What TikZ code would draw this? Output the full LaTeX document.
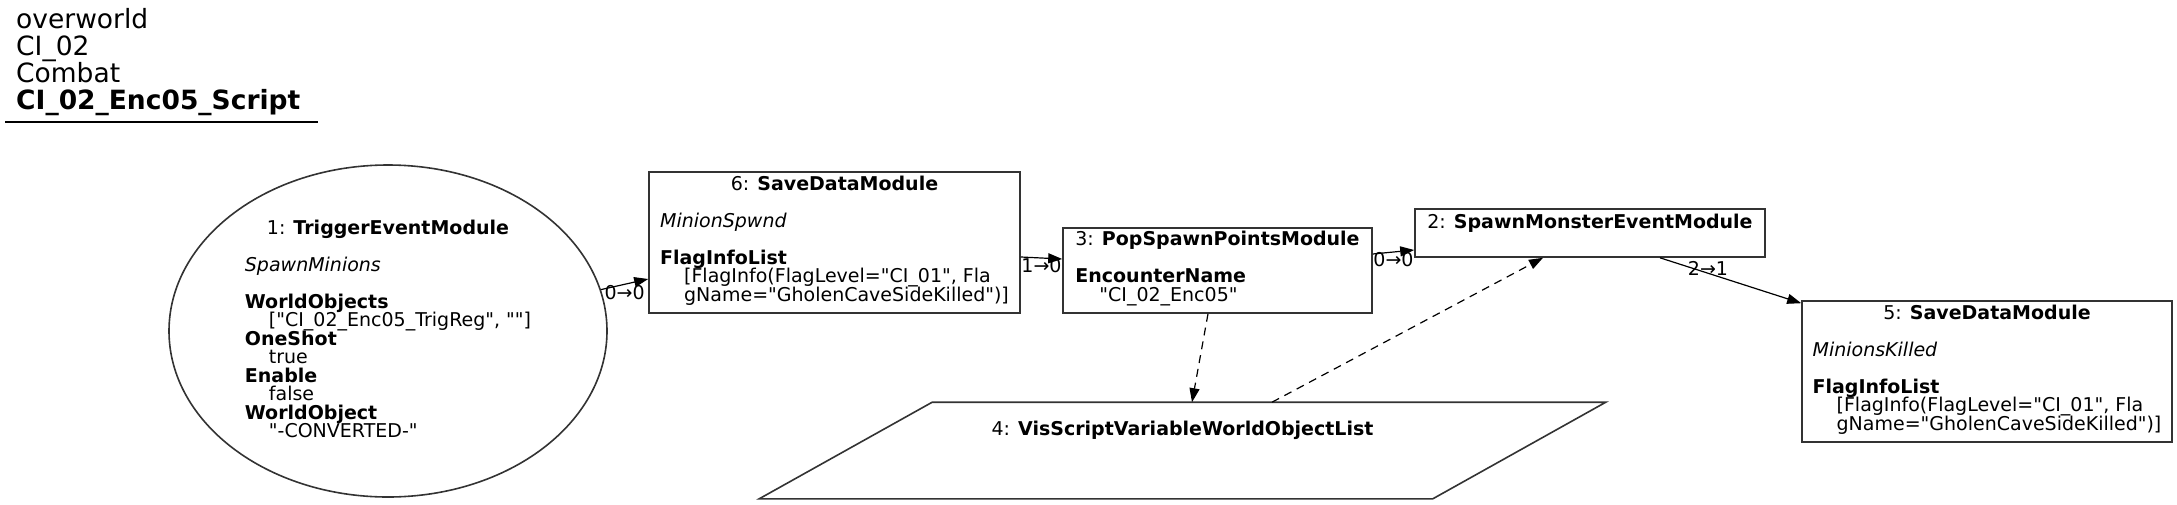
\documentclass[tikz,border=0pt]{standalone}
\usepackage{fontspec}
\setmainfont{DejaVu Sans}[Ligatures=TeXOff]
\usetikzlibrary{arrows.meta, shapes.geometric, calc}
\newcommand{\tightlines}{\lineskiplimit=-100pt\relax}
\newcommand{\valindent}{\hspace*{24pt}}
% rows of a module label: first row centred with \hfill ... \hfill
\newcommand{\modbody}[1]{\vbox{\tightlines\let\\\cr\halign{##\hfil\cr#1\crcr}\kern4pt}}
\tikzset{
  module/.style={draw=black!80, line width=1.6pt, fill=white, inner sep=0pt,
                 font=\fontsize{19pt}{18.5pt}\selectfont\tightlines},
  trigger/.style={module, ellipse},
  flow/.style={-{Triangle[length=14pt, width=10pt]}, line width=1.2pt},
  varlink/.style={flow, dash pattern=on 8pt off 6pt},
  portlabel/.style={font=\fontsize{19pt}{18.5pt}\selectfont, inner sep=0pt},
  heading/.style={align=left, inner sep=0pt,
                  font=\fontsize{26.5pt}{27pt}\selectfont\tightlines},
}

\begin{document}
\begin{tikzpicture}[x=1pt, y=-1pt]
  \useasboundingbox (0,0) rectangle (2177,504);

  % Heading
  \node[heading, anchor=north west] (heading) at (16,8)
    {overworld\\CI\_02\\Combat\\\textbf{CI\_02\_Enc05\_Script}};
  \draw[line width=1.3pt] (5,122) -- (318,122);

  % Modules
  \node[trigger, minimum width=438pt, minimum height=332pt] (trig) at (388,331)
    {\modbody{\hfill 1: \textbf{TriggerEventModule}\hfill\\ \mbox{}\\
     \textit{SpawnMinions}\\ \mbox{}\\
     \textbf{WorldObjects}\\ \valindent["CI\_02\_Enc05\_TrigReg", ""]\\
     \textbf{OneShot}\\ \valindent true\\
     \textbf{Enable}\\ \valindent false\\
     \textbf{WorldObject}\\ \valindent"-CONVERTED-"}};

  \node[module, minimum width=371pt, minimum height=141pt] (save6) at (834.5,242.5)
    {\modbody{\hfill 6: \textbf{SaveDataModule}\hfill\\ \mbox{}\\
     \textit{MinionSpwnd}\\ \mbox{}\\
     \textbf{FlagInfoList}\\
     \valindent[FlagInfo(FlagLevel="CI\_01", Fla\\
     \valindent gName="GholenCaveSideKilled")]}};

  \node[module, minimum width=309pt, minimum height=85pt] (pop3) at (1217.5,270.5)
    {\modbody{\hfill 3: \textbf{PopSpawnPointsModule}\hfill\\ \mbox{}\\
     \textbf{EncounterName}\\ \valindent"CI\_02\_Enc05"}};

  \node[module, minimum width=350pt, minimum height=48pt,
        text height=14.4pt, text depth=24pt] (spawn2) at (1590,233)
    {2: \textbf{SpawnMonsterEventModule}};

  \node[module, minimum width=370pt, minimum height=141pt] (save5) at (1987,371.5)
    {\modbody{\hfill 5: \textbf{SaveDataModule}\hfill\\ \mbox{}\\
     \textit{MinionsKilled}\\ \mbox{}\\
     \textbf{FlagInfoList}\\
     \valindent[FlagInfo(FlagLevel="CI\_01", Fla\\
     \valindent gName="GholenCaveSideKilled")]}};

  % Variable (parallelogram)
  \node[module, draw=none, fill=none, minimum width=845pt, minimum height=95pt,
        text height=14.4pt, text depth=45.4pt] (vis) at (1182.5,450.5)
    {4: \textbf{VisScriptVariableWorldObjectList}};
  \draw[draw=black!80, line width=1.6pt] (vis.south west) -- ([xshift=173pt]vis.north west)
    -- (vis.north east) -- ([xshift=-173pt]vis.south east) -- cycle;

  % Connections
  \draw[flow] (trig.11) -- node[portlabel, below] {0→0} ([yshift=-36.5pt]save6.west);
  \draw[flow] ([yshift=-14.5pt]save6.east) -- node[portlabel, below] {1→0}
    ([yshift=11.5pt]pop3.west);
  \draw[flow] ([yshift=16.5pt]pop3.east) -- node[portlabel, below] {0→0}
    ([yshift=-17pt]spawn2.west);
  \draw[flow] ([xshift=70pt]spawn2.south) -- node[portlabel, pos=0.34, yshift=4.5pt] {2→1}
    ([yshift=-3pt]save5.north west);

  % Variable links
  \draw[varlink] ([xshift=-9.5pt]pop3.south) -- ([xshift=9.5pt]vis.north);
  \draw[varlink] ([xshift=89.5pt]vis.north) -- ([xshift=-47pt]spawn2.south);
\end{tikzpicture}
\end{document}
